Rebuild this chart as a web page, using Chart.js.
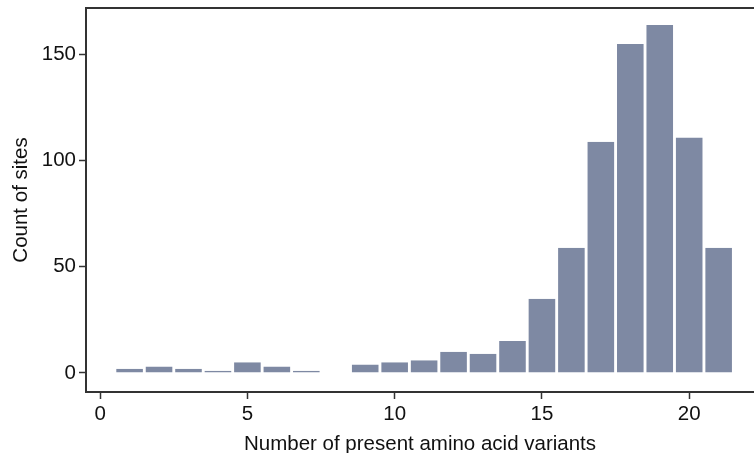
<!DOCTYPE html>
<html>
<head>
<meta charset="utf-8">
<script src="https://cdn.jsdelivr.net/npm/chart.js@4/dist/chart.umd.min.js"></script>
<style>
  html, body { margin: 0; padding: 0; background: #fff; }
  #wrap { width: 754px; height: 453px; }
</style>
</head>
<body>
<div id="wrap"><canvas id="chart"></canvas></div>
<script>
// number of present amino acid variants (bins) and site counts
const variants = [1, 2, 3, 4, 5, 6, 7, 8, 9, 10, 11, 12, 13, 14, 15, 16, 17, 18, 19, 20, 21];
const counts = [2, 3, 2, 1, 5, 3, 1, 0, 4, 5, 6, 10, 9, 15, 35, 59, 109, 155, 164, 111, 59];
const xTicks = [0, 5, 10, 15, 20];
const yTicks = [0, 50, 100, 150];

const axisColor = "#333";
const fontSpec = { family: "'Liberation Sans', Arial, sans-serif", size: 20.5 };

// line along the top of the plot area
const topLine = {
  id: "topLine",
  afterDraw(chart) {
    const { ctx, chartArea } = chart;
    ctx.save();
    ctx.strokeStyle = axisColor;
    ctx.lineWidth = 2;
    ctx.beginPath();
    ctx.moveTo(chartArea.left - 1, chartArea.top);
    ctx.lineTo(chart.width, chartArea.top);
    ctx.stroke();
    ctx.restore();
  }
};

new Chart(document.getElementById("chart"), {
  type: "bar",
  data: {
    datasets: [{
      data: variants.map((v, i) => ({ x: v, y: counts[i] })),
      backgroundColor: "#7e89a3",
      borderColor: "#ffffff",
      borderWidth: { left: 1, right: 1, top: 0, bottom: 0 },
      categoryPercentage: 1,
      barPercentage: 0.97
    }]
  },
  plugins: [topLine],
  options: {
    responsive: true,
    maintainAspectRatio: false,
    animation: false,
    layout: { padding: { top: 8, right: 0, left: 0, bottom: 0 } },
    plugins: { legend: { display: false }, tooltip: { enabled: false } },
    scales: {
      x: {
        type: "linear",
        offset: false,
        min: -0.48,
        max: 22.2,
        afterBuildTicks: (s) => { s.ticks = xTicks.map(v => ({ value: v })); },
        afterFit: (s) => { s.height = 61; s.paddingLeft = 0; s.paddingRight = 0; },
        grid: { offset: false, drawOnChartArea: false, color: axisColor, tickLength: 7, tickWidth: 1.5 },
        border: { color: axisColor, width: 2 },
        ticks: { color: "#111", font: fontSpec, padding: 3, maxRotation: 0 },
        title: { display: true, text: "Number of present amino acid variants", color: "#111", font: fontSpec, padding: { top: 4, bottom: -4 } }
      },
      y: {
        min: -9,
        max: 172,
        afterBuildTicks: (s) => { s.ticks = yTicks.map(v => ({ value: v })); },
        afterFit: (s) => { s.width = 86; s.paddingTop = 0; s.paddingBottom = 0; },
        grid: { drawOnChartArea: false, color: axisColor, tickLength: 7, tickWidth: 1.5 },
        border: { color: axisColor, width: 2 },
        ticks: { color: "#111", font: fontSpec, padding: 3 },
        title: { display: true, text: "Count of sites", color: "#111", font: fontSpec, padding: { top: 9, bottom: 0 } }
      }
    }
  }
});
</script>
</body>
</html>
